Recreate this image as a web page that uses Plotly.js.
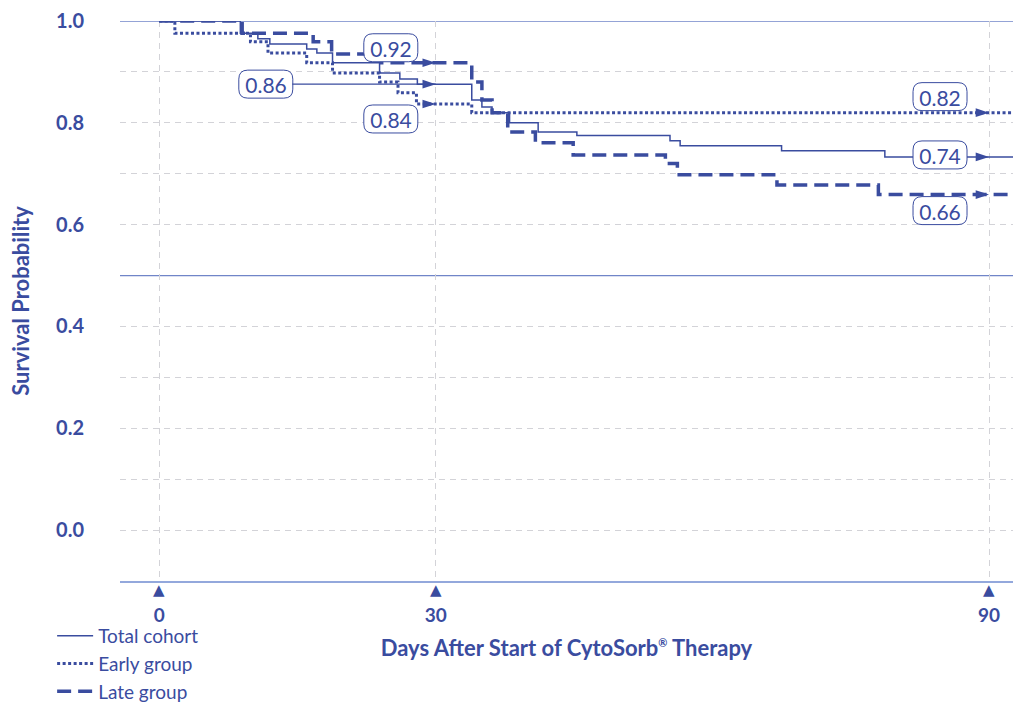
<!DOCTYPE html>
<html><head><meta charset="utf-8">
<script src="https://cdn.plot.ly/plotly-3.0.1.min.js"></script>
<style>html,body{margin:0;padding:0;background:#fff}#chart{width:1013px;height:711px}</style>
</head><body><div id="chart"></div>
<script>
// ---- data ----
const totalDays = [0, 8.8, 10.7, 12.0, 16.0, 17.1, 18.8, 23.9, 26.1, 28.0, 33.9, 35.0, 36.1, 38.0, 41.1, 45.3, 55.4, 56.5, 67.5, 78.7, 93];
const totalSurv = [1.0, 0.976, 0.965, 0.955, 0.945, 0.937, 0.918, 0.898, 0.886, 0.876, 0.845, 0.831, 0.82, 0.80, 0.782, 0.775, 0.765, 0.755, 0.745, 0.733, 0.733];

const earlyDays = [0, 1.7, 9.9, 11.8, 16.0, 18.8, 23.9, 25.9, 27.9, 33.9, 93];
const earlySurv = [1.0, 0.976, 0.959, 0.937, 0.918, 0.898, 0.88, 0.859, 0.837, 0.82, 0.82];

const lateDays = [0, 9.0, 16.7, 18.7, 24.1, 33.9, 35.0, 36.1, 37.8, 40.8, 44.9, 54.9, 56.2, 67.0, 78.0, 93];
const lateSurv = [1.0, 0.976, 0.959, 0.935, 0.918, 0.88, 0.845, 0.82, 0.782, 0.761, 0.737, 0.72, 0.698, 0.678, 0.659, 0.659];

const seriesNames = ['Total cohort', 'Early group', 'Late group'];
const xTickVals = [0, 30, 90];
const xTickText = ['0', '30', '90'];
const yTickVals = [0, 0.2, 0.4, 0.6, 0.8, 1.0];
const yMinorVals = [0.1, 0.3, 0.7, 0.9];

const markDays = [30, 90];
const labelDays   = [30, 30, 30, 90, 90, 90];
const labelSeries = [0, 2, 1, 1, 0, 2];
const labelTexts  = ['0.86', '0.92', '0.84', '0.82', '0.74', '0.66'];

// ---- style ----
const BLUE = '#3a4c9f';
const LIGHTLINE = '#7085c8';
const AXIS = '#93a8dc';
const GRID = '#d3d3d8';
const FONT = 'Lato, "Open Sans", sans-serif';
const xRange = [-4.25, 92.6];
const yRange = [-0.1, 1.0];

const curves = [
  {d: totalDays, s: totalSurv, line: {color: BLUE, width: 1.5}},
  {d: earlyDays, s: earlySurv, line: {color: BLUE, width: 3, dash: '3px,2.5px'}},
  {d: lateDays,  s: lateSurv,  line: {color: BLUE, width: 3.5, dash: '14px,7px'}}
];

function stepAt(days, surv, t) {
  let v = surv[0];
  for (let i = 0; i < days.length; i++) { if (days[i] <= t) v = surv[i]; }
  return v;
}

const traces = curves.map((c, i) => ({
  type: 'scatter', mode: 'lines', name: seriesNames[i],
  x: c.d, y: c.s, line: Object.assign({shape: 'hv'}, c.line),
  hoverinfo: 'skip'
}));

// arrow markers at day 30 / 90 on every curve
const mx = [], my = [];
curves.forEach(c => markDays.forEach(t => { mx.push(t); my.push(stepAt(c.d, c.s, t)); }));
traces.push({
  type: 'scatter', mode: 'markers', x: mx, y: my, showlegend: false, hoverinfo: 'skip',
  marker: {symbol: 'arrow', angle: 90, size: 14, color: BLUE, line: {width: 0}}
});

// label placement offsets (px, y up) relative to the curve value at that day
const labelOffsets = [[-170, 0], [-45, 15], [-45, -15], [-49, 16], [-49, 2], [-49, -16]];
const BOX_W = 54, BOX_H = 28, BOX_R = 9;

function roundedBox(cx, cy) {
  const l = cx - BOX_W / 2, r = cx + BOX_W / 2, t = cy + BOX_H / 2, b = cy - BOX_H / 2, k = BOX_R;
  return `M${l + k},${t} H${r - k} Q${r},${t} ${r},${t - k} V${b + k} Q${r},${b} ${r - k},${b} ` +
         `H${l + k} Q${l},${b} ${l},${b + k} V${t - k} Q${l},${t} ${l + k},${t} Z`;
}

const annotations = [];
const shapes = [
  {type: 'line', xref: 'paper', yref: 'y', x0: 0, x1: 1, y0: 1.0, y1: 1.0, line: {color: LIGHTLINE, width: 1.3}, layer: 'between'},
  {type: 'line', xref: 'paper', yref: 'y', x0: 0, x1: 1, y0: 0.5, y1: 0.5, line: {color: LIGHTLINE, width: 1.3}, layer: 'between'}
];

labelTexts.forEach((txt, k) => {
  const c = curves[labelSeries[k]];
  const yv = stepAt(c.d, c.s, labelDays[k]);
  const off = labelOffsets[k];
  shapes.push({
    type: 'path', xref: 'x', yref: 'y', xsizemode: 'pixel', ysizemode: 'pixel',
    xanchor: labelDays[k], yanchor: yv, path: roundedBox(off[0], off[1]),
    fillcolor: '#ffffff', line: {color: BLUE, width: 1}, layer: 'above'
  });
  const a = {
    x: labelDays[k], y: yv, xref: 'x', yref: 'y', text: txt,
    font: {family: FONT, size: 21, color: BLUE},
    width: 48, height: 22, borderpad: 2, borderwidth: 1, bordercolor: 'rgba(0,0,0,0)',
    align: 'center', valign: 'middle'
  };
  if (k === 0) {
    Object.assign(a, {showarrow: true, arrowhead: 0, arrowwidth: 1.3, arrowcolor: BLUE,
      ax: off[0], ay: -off[1], axref: 'pixel', ayref: 'pixel', standoff: 0, startstandoff: 0});
  } else {
    Object.assign(a, {showarrow: false, xshift: off[0], yshift: off[1]});
  }
  annotations.push(a);
});

// tick triangles under the x axis line
xTickVals.forEach(v => annotations.push({
  x: v, y: 0, xref: 'x', yref: 'paper', text: '\u25B2', showarrow: false,
  yanchor: 'top', yshift: 2, font: {family: 'DejaVu Sans', size: 15, color: BLUE}
}));

const layout = {
  width: 1013, height: 711,
  margin: {l: 120, r: 0, t: 21, b: 130},
  paper_bgcolor: '#ffffff', plot_bgcolor: '#ffffff',
  showlegend: true,
  legend: {x: -0.076, xanchor: 'left', y: -130 / 560, yanchor: 'bottom',
    font: {family: FONT, size: 19, color: BLUE}, bgcolor: 'rgba(0,0,0,0)',
    tracegroupgap: 0, itemwidth: 36},
  xaxis: {
    range: xRange, tickvals: xTickVals, ticktext: xTickText,
    showgrid: true, gridcolor: GRID, griddash: '6px,5px', gridwidth: 1,
    zeroline: false, showline: true, linecolor: AXIS, linewidth: 1.5, ticks: '',
    tickfont: {family: FONT, size: 19, color: BLUE, weight: 'bold'},
    ticklabelstandoff: 17,
    title: {text: 'Days After Start of CytoSorb<sup><span style="font-size:11px">®</span></sup> Therapy',
      font: {family: FONT, size: 22, color: BLUE, weight: 'bold'}, standoff: 15},
    fixedrange: true
  },
  yaxis: {
    range: yRange, tickvals: yTickVals, tickformat: '.1f',
    showgrid: true, gridcolor: GRID, griddash: '6px,5px', gridwidth: 1,
    minor: {tickvals: yMinorVals, showgrid: true, gridcolor: GRID, griddash: '6px,5px', gridwidth: 1},
    zeroline: false, showline: false, ticks: '',
    tickfont: {family: FONT, size: 20, color: BLUE, weight: 'bold'},
    ticklabelstandoff: 35,
    title: {text: 'Survival Probability', font: {family: FONT, size: 22, color: BLUE, weight: 'bold'}, standoff: 20},
    fixedrange: true
  },
  shapes: shapes,
  annotations: annotations
};

Plotly.newPlot('chart', traces, layout, {displayModeBar: false, staticPlot: true});
</script>
</body></html>
